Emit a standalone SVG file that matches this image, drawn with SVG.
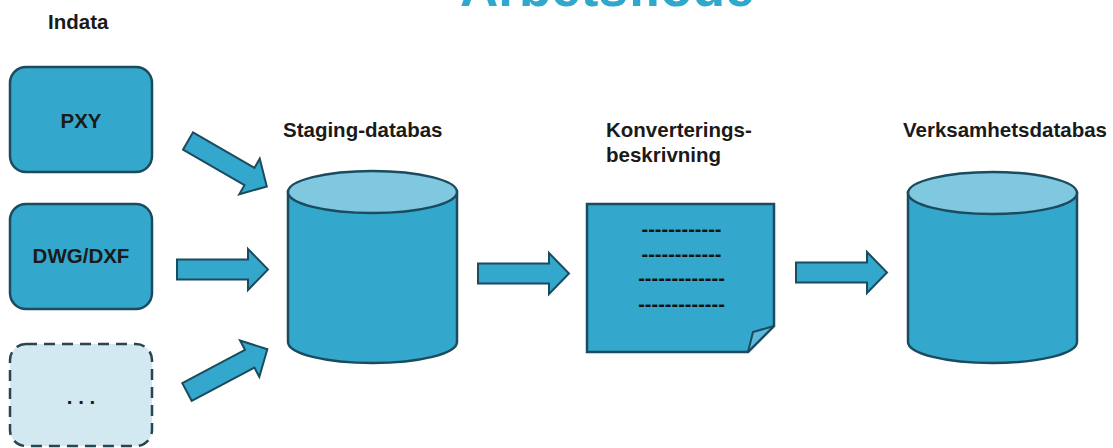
<svg xmlns="http://www.w3.org/2000/svg" width="1113" height="448" viewBox="0 0 1113 448">
<defs>
<style>
.lbl{font-family:"Liberation Sans",Arial,sans-serif;font-weight:bold;font-size:20.5px;fill:#1a1a1a}
.box{fill:#34a7cd;stroke:#1b4b5e;stroke-width:2.5}
.ghost{fill:#d3e9f2;stroke:#2a4450;stroke-width:2.5;stroke-dasharray:11 7}
.top{fill:#80c8e0;stroke:#1b4b5e;stroke-width:2.5}
.arr{fill:#34a7cd;stroke:#1b4b5e;stroke-width:2;stroke-linejoin:miter}
.dash{font-family:"Liberation Sans",Arial,sans-serif;font-weight:bold;font-size:20px;fill:#111;text-anchor:middle}
</style>
<path id="blk" d="M0,-10 H71 V-20.5 L91,0 L71,20.5 V10 H0 Z"/>
</defs>
<rect width="1113" height="448" fill="#ffffff"/>
<text x="460" y="6" font-family="'Liberation Sans',Arial,sans-serif" font-weight="bold" font-size="53" fill="#2fa8cc">Arbetsflöde</text>
<text class="lbl" x="48" y="29">Indata</text>
<g id="pxy">
<rect class="box" x="10" y="67" width="142" height="105" rx="16"/>
<text class="lbl" x="81" y="128" text-anchor="middle">PXY</text>
</g>
<g id="dwg">
<rect class="box" x="10" y="204" width="142" height="105" rx="16"/>
<text class="lbl" x="81" y="263" text-anchor="middle">DWG/DXF</text>
</g>
<g id="other">
<rect class="ghost" x="10" y="344" width="142" height="102" rx="16"/>
<text class="lbl" x="81" y="404" text-anchor="middle" xml:space="preserve">. . .</text>
</g>
<g id="connectors">
<use href="#blk" class="arr" transform="translate(188,141) rotate(30)"/>
<use href="#blk" class="arr" transform="translate(177,269.5)"/>
<use href="#blk" class="arr" transform="translate(187,392) rotate(-28)"/>
<use href="#blk" class="arr" transform="translate(478,273.5)"/>
<use href="#blk" class="arr" transform="translate(796,272.5)"/>
</g>
<g id="staging">
<text class="lbl" x="283" y="137">Staging-databas</text>
<path class="box" d="M288,192 V342 A84.5,21 0 0 0 457,342 V192 Z"/>
<ellipse class="top" cx="372.5" cy="192" rx="84.5" ry="21"/>
</g>
<g id="konv">
<text class="lbl" x="606" y="137">Konverterings-</text>
<text class="lbl" x="606" y="162">beskrivning</text>
<path class="box" d="M587,204 H774 V326 L748,352 H587 Z"/>
<path d="M774,326 L753,332 L748,352 Z" fill="#5cb9db" stroke="#1b4b5e" stroke-width="2" stroke-linejoin="round"/>
<text class="dash" x="681.5" y="236">------------</text>
<text class="dash" x="681.5" y="261">------------</text>
<text class="dash" x="681.5" y="285">-------------</text>
<text class="dash" x="681.5" y="311">-------------</text>
</g>
<g id="verk">
<text class="lbl" x="903" y="137">Verksamhetsdatabas</text>
<path class="box" d="M908,193 V342 A84.5,21 0 0 0 1077,342 V193 Z"/>
<ellipse class="top" cx="992.5" cy="193" rx="84.5" ry="21"/>
</g>
</svg>
